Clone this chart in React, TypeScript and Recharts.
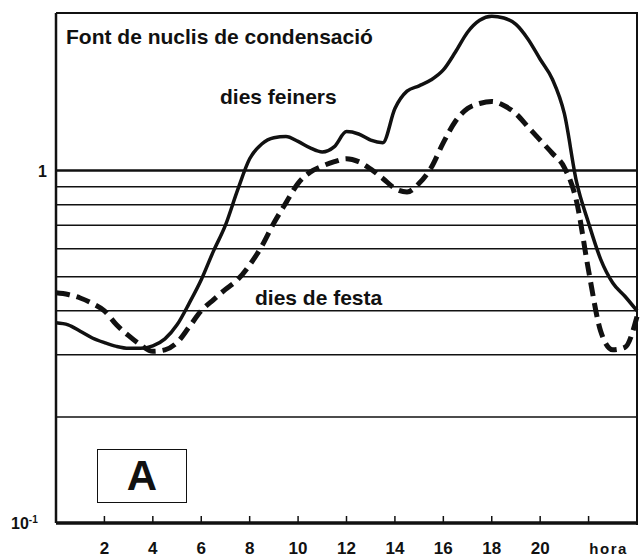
import { LineChart, Line, XAxis, YAxis, ReferenceLine } from 'recharts'

// hours of the day, read every half hour off the scan
const hours = [
  0, 0.5, 1, 1.5, 2, 2.5, 3, 3.5, 4, 4.5, 5, 5.5, 6, 6.5, 7, 7.5, 8, 8.5, 9, 9.5,
  10, 10.5, 11, 11.5, 12, 12.5, 13, 13.5, 14, 14.5, 15, 15.5, 16, 16.5, 17, 17.5,
  18, 18.5, 19, 19.5, 20, 20.5, 21, 21.5, 22, 22.5, 23, 23.5, 24,
]

// dies feiners (solid)
const feiners = [
  0.37, 0.365, 0.35, 0.335, 0.325, 0.317, 0.313, 0.313, 0.318, 0.333, 0.365, 0.42,
  0.49, 0.59, 0.7, 0.88, 1.08, 1.19, 1.24, 1.25, 1.21, 1.16, 1.13, 1.17, 1.29, 1.27,
  1.22, 1.2, 1.5, 1.68, 1.74, 1.81, 1.93, 2.17, 2.47, 2.67, 2.74, 2.71, 2.6, 2.36,
  2.07, 1.82, 1.45, 0.93, 0.71, 0.56, 0.48, 0.44, 0.4,
]

// dies de festa (dashed)
const festa = [
  0.45, 0.445, 0.435, 0.42, 0.4, 0.365, 0.34, 0.32, 0.307, 0.31, 0.325, 0.36, 0.4,
  0.43, 0.46, 0.49, 0.54, 0.61, 0.71, 0.81, 0.92, 0.99, 1.03, 1.06, 1.08, 1.06, 1.01,
  0.95, 0.89, 0.87, 0.92, 1.02, 1.2, 1.38, 1.5, 1.55, 1.57, 1.53, 1.45, 1.33, 1.22,
  1.12, 1.02, 0.82, 0.52, 0.35, 0.31, 0.315, 0.385,
]

const gridValues = [1, 0.9, 0.8, 0.7, 0.6, 0.5, 0.4, 0.3, 0.2]
const hourTicks = [2, 4, 6, 8, 10, 12, 14, 16, 18, 20, 22]
const hourLabels = ['2', '4', '6', '8', '10', '12', '14', '16', '18', '20', 'hora']

const data = hours.map((h, i) => ({ h, feiners: feiners[i], festa: festa[i] }))

const font = '"Liberation Sans", Arial, sans-serif'
const ink = '#111'

function HourTick(props: any) {
  const { x, y, payload } = props
  const label = hourLabels[hourTicks.indexOf(payload.value)]
  const isHora = label === 'hora'
  return (
    <g>
      <line x1={x} x2={x} y1={y - 7} y2={y} stroke={ink} strokeWidth={1.5} />
      <text
        x={isHora ? x + 20 : x}
        y={y + 31}
        textAnchor="middle"
        fontFamily={font}
        fontWeight="bold"
        fontSize={isHora ? 15 : 17}
        letterSpacing={isHora ? 1.5 : 0}
        fill={ink}
      >
        {label}
      </text>
    </g>
  )
}

function ValueTick(props: any) {
  const { x, y, payload } = props
  if (payload.value === 1) {
    return (
      <text x={x - 9} y={y + 6} textAnchor="end" fontFamily={font} fontWeight="bold" fontSize={16} fill={ink}>
        1
      </text>
    )
  }
  return (
    <text x={x - 45} y={y + 6} fontFamily={font} fontWeight="bold" fontSize={16} fill={ink}>
      10
      <tspan dy={-6} fontSize={10}>-1</tspan>
    </text>
  )
}

const noteStyle = {
  position: 'absolute' as const,
  fontSize: 21,
  fontWeight: 'bold' as const,
  color: ink,
  whiteSpace: 'nowrap' as const,
  lineHeight: '24px',
}

export default function App() {
  return (
    <div style={{ position: 'absolute', left: 0, top: 0, width: 640, height: 560, background: '#fff', fontFamily: font }}>
      <LineChart width={640} height={560} data={data} margin={{ top: 13, right: 3, bottom: 0, left: 0 }}>
        <XAxis
          dataKey="h"
          type="number"
          domain={[0, 24]}
          ticks={hourTicks}
          interval={0}
          height={37}
          tickSize={0}
          tickMargin={0}
          tick={<HourTick />}
          axisLine={{ stroke: ink, strokeWidth: 3.5 }}
        />
        <YAxis
          scale="log"
          domain={[0.1, 2.8]}
          allowDataOverflow
          ticks={[0.1, 1]}
          width={56}
          tickSize={0}
          tickMargin={0}
          tick={<ValueTick />}
          axisLine={{ stroke: ink, strokeWidth: 2.5 }}
        />
        {gridValues.map((v) => (
          <ReferenceLine key={v} y={v} stroke={ink} strokeWidth={v === 1 ? 2.5 : 1.5} />
        ))}
        <Line
          type="monotone"
          dataKey="feiners"
          stroke={ink}
          strokeWidth={3.5}
          dot={false}
          isAnimationActive={false}
        />
        <Line
          type="monotone"
          dataKey="festa"
          stroke={ink}
          strokeWidth={5}
          strokeDasharray="14 7"
          dot={false}
          isAnimationActive={false}
        />
      </LineChart>
      {/* top and right edges of the frame */}
      <div
        style={{
          position: 'absolute', left: 56, top: 12, width: 580, height: 511,
          borderTop: `2px solid ${ink}`, borderRight: `2px solid ${ink}`, pointerEvents: 'none',
        }}
      />
      <div style={{ ...noteStyle, left: 66, top: 25 }}>Font de nuclis de condensació</div>
      <div style={{ ...noteStyle, left: 220, top: 85 }}>dies feiners</div>
      <div style={{ ...noteStyle, left: 255, top: 286 }}>dies de festa</div>
      <div
        style={{
          position: 'absolute', left: 97, top: 449, width: 88, height: 52,
          border: `1.5px solid ${ink}`, display: 'flex', alignItems: 'center', justifyContent: 'center',
          fontSize: 42, fontWeight: 'bold', color: ink,
        }}
      >
        A
      </div>
    </div>
  )
}
